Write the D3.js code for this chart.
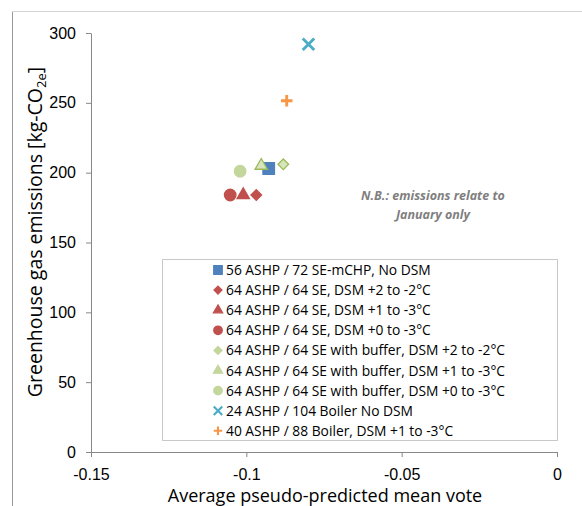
<!DOCTYPE html>
<html>
<head>
<meta charset="utf-8">
<script src="https://cdn.jsdelivr.net/npm/d3@7"></script>
<style>
	body { margin: 0; background: #fff; }
	svg { font-family: "Open Sans", "Liberation Sans", sans-serif; }
	.axis path, .axis line { stroke: #888; }
	.axis text { fill: #000; font-size: 16px; }
	.lg text { font-size: 13.8px; fill: #000; }
</style>
</head>
<body>
<svg id="chart" width="582" height="506"></svg>
<script>
// series, in legend order
var seriesNames = [
	'56 ASHP / 72 SE-mCHP, No DSM',
	'64 ASHP / 64 SE, DSM +2 to -2\u00B0C',
	'64 ASHP / 64 SE, DSM +1 to -3\u00B0C',
	'64 ASHP / 64 SE, DSM +0 to -3\u00B0C',
	'64 ASHP / 64 SE with buffer, DSM +2 to -2\u00B0C',
	'64 ASHP / 64 SE with buffer, DSM +1 to -3\u00B0C',
	'64 ASHP / 64 SE with buffer, DSM +0 to -3\u00B0C',
	'24 ASHP / 104 Boiler No DSM',
	'40 ASHP / 88 Boiler, DSM +1 to -3\u00B0C'
];
var pmvValues = [-0.0928, -0.0968, -0.1010, -0.1052, -0.0881, -0.0952, -0.1020, -0.0800, -0.0870];
var emissionValues = [203.0, 184.0, 184.0, 184.0, 206.0, 205.0, 201.0, 292.0, 251.5];
var markerShapes = ['square', 'diamond', 'triangle', 'circle', 'diamond', 'triangle', 'circle', 'cross', 'plus'];
var markerFills = ['#4F81BD', '#C0504D', '#C0504D', '#C0504D', '#D7E4BD', '#D7E4BD', '#C3D69B', 'none', 'none'];
var markerStrokes = ['#4F81BD', '#C0504D', '#C0504D', '#C0504D', '#9BBB59', '#9BBB59', '#C3D69B', '#4BACC6', '#F79646'];

var xTicks = [-0.15, -0.1, -0.05, 0];
var yTicks = [0, 50, 100, 150, 200, 250, 300];

var svg = d3.select('#chart');

// outer frame of the original figure
svg.append('line').attr('x1', 12.5).attr('y1', 11).attr('x2', 12.5).attr('y2', 506).attr('stroke', '#999');
svg.append('line').attr('x1', 12).attr('y1', 11.5).attr('x2', 582).attr('y2', 11.5).attr('stroke', '#d4d4d4');

var x = d3.scaleLinear().domain([-0.15, 0]).range([91, 557]);
var y = d3.scaleLinear().domain([0, 300]).range([452, 33]);

svg.append('g')
	.attr('class', 'axis')
	.attr('transform', 'translate(0,452)')
	.call(d3.axisBottom(x).tickValues(xTicks).tickSize(5).tickSizeOuter(0).tickPadding(12)
		.tickFormat(function (d) { return d === 0 ? '0' : String(+d.toFixed(2)); }));

svg.append('g')
	.attr('class', 'axis')
	.attr('transform', 'translate(91,0)')
	.call(d3.axisLeft(y).tickValues(yTicks).tickSize(5).tickSizeOuter(0).tickPadding(10));

svg.selectAll('.axis .domain').attr('stroke', '#888');

// axis titles
svg.append('text')
	.attr('x', 325).attr('y', 502)
	.attr('text-anchor', 'middle')
	.style('font-size', '18px')
	.text('Average pseudo-predicted  mean vote');

var yt = svg.append('text')
	.attr('transform', 'translate(42,232) rotate(-90)')
	.attr('text-anchor', 'middle')
	.style('font-size', '19.5px');
yt.append('tspan').text('Greenhouse gas emissions [kg-CO');
yt.append('tspan').attr('dy', 4).style('font-size', '13px').text('2e');
yt.append('tspan').attr('dy', -4).text(']');

// note
svg.append('text')
	.attr('x', 433).attr('y', 200)
	.attr('text-anchor', 'middle')
	.style('font-size', '12.5px').style('font-style', 'italic').style('font-weight', 'bold')
	.attr('fill', '#7f7f7f')
	.text('N.B.: emissions relate to');
svg.append('text')
	.attr('x', 433).attr('y', 219)
	.attr('text-anchor', 'middle')
	.style('font-size', '12.5px').style('font-style', 'italic').style('font-weight', 'bold')
	.attr('fill', '#7f7f7f')
	.text('January only');

function drawMarker(g, shape, size, fill, stroke) {
	var s = size;
	if (shape === 'cross' || shape === 'plus') {
		var r = s / 2;
		var p = shape === 'plus'
			? 'M' + (-r) + ',0L' + r + ',0M0,' + (-r) + 'L0,' + r
			: 'M' + (-r) + ',' + (-r) + 'L' + r + ',' + r + 'M' + (-r) + ',' + r + 'L' + r + ',' + (-r);
		g.append('path').attr('d', p).attr('stroke', stroke).attr('stroke-width', s / 4).attr('fill', 'none');
		return;
	}
	var sym = { square: d3.symbolSquare, diamond: d3.symbolDiamond2, triangle: d3.symbolTriangle, circle: d3.symbolCircle }[shape];
	var area = { square: s * s, diamond: s * s * 0.55, triangle: s * s * 0.5, circle: Math.PI * s * s / 4 }[shape];
	g.append('path')
		.attr('d', d3.symbol().type(sym).size(area)())
		.attr('fill', fill).attr('stroke', stroke).attr('stroke-width', 1.3);
}

// points
seriesNames.forEach(function (name, i) {
	var g = svg.append('g').attr('transform', 'translate(' + x(pmvValues[i]) + ',' + y(emissionValues[i]) + ')');
	drawMarker(g, markerShapes[i], 11.5, markerFills[i], markerStrokes[i]);
});

// legend
var lg = svg.append('g').attr('class', 'lg');
lg.append('rect').attr('x', 162.5).attr('y', 259.5).attr('width', 395).attr('height', 181)
	.attr('fill', '#fff').attr('stroke', '#c8c8c8');
seriesNames.forEach(function (name, i) {
	var row = lg.append('g').attr('transform', 'translate(0,' + (270 + i * 20.1) + ')');
	var m = row.append('g').attr('transform', 'translate(218,0)');
	drawMarker(m, markerShapes[i], 8.5, markerFills[i] === 'none' ? 'none' : markerStrokes[i] === '#9BBB59' ? '#C3D69B' : markerFills[i], markerStrokes[i] === '#9BBB59' ? '#C3D69B' : markerStrokes[i]);
	row.append('text').attr('x', 226).attr('y', 5).text(name);
});
</script>
</body>
</html>
